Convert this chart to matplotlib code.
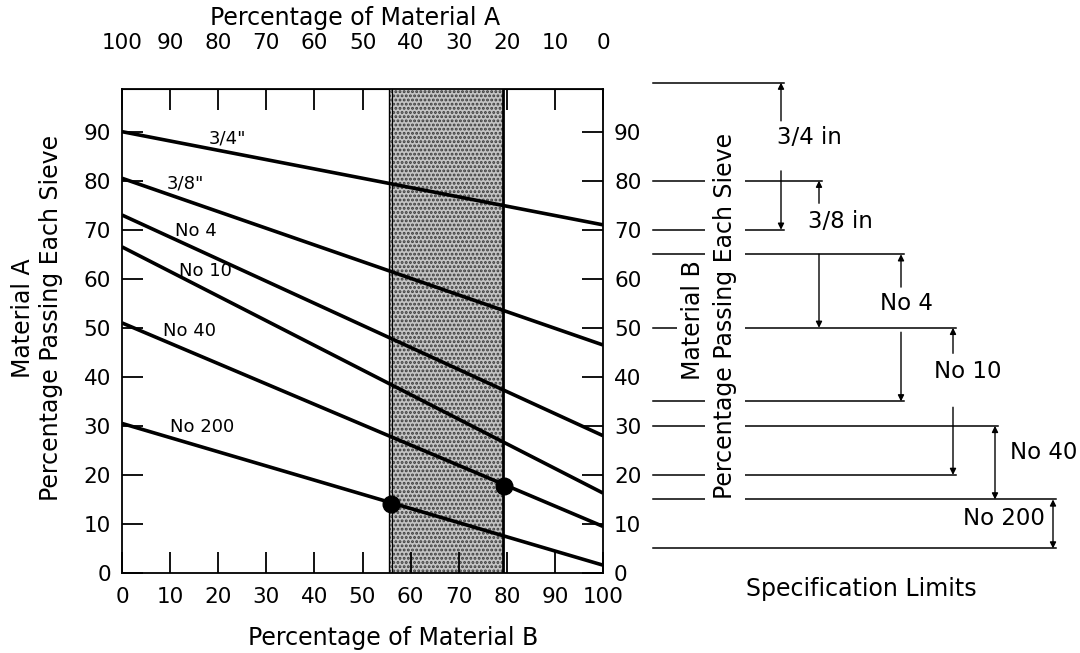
import matplotlib
matplotlib.use("Agg")
import matplotlib.pyplot as plt

# Datos: porcentaje que pasa cada tamiz para 0 % y 100 % de material B
sieves = ['3/4"', '3/8"', 'No 4', 'No 10', 'No 40', 'No 200']
pass_a = [90, 80.5, 73, 66.5, 51, 30.5]     # 100 % material A
pass_b = [71, 46.5, 28, 16.3, 9.5, 1.6]     # 100 % material B
label_b = [22, 13.1, 15.4, 17.3, 14.1, 16.6]
label_pass = [88.7, 79.5, 69.7, 61.6, 49.3, 29.8]

blend_b = [55.5, 79.2]
marked_b = [56, 79.5]
marked_pass = [14.1, 17.8]

spec_names = ["3/4 in", "3/8 in", "No 4", "No 10", "No 40", "No 200"]
spec_low = [70, 50, 35, 20, 15, 5]
spec_high = [100, 80, 65, 50, 30, 15]

W, H = 1080, 653


def fx(px):
    return px / W


def fy(py):
    return 1 - py / H


plt.rcParams["hatch.linewidth"] = 1.4

fig = plt.figure(figsize=(10.8, 6.53), dpi=100)
ax = fig.add_axes([fx(122), fy(573), (603 - 122) / W, (573 - 89) / H])

# zona de mezcla
ax.axvspan(blend_b[0], blend_b[1], facecolor="#c4c4c4", edgecolor="#3a3a3a",
           hatch="....", lw=0, zorder=1)
ax.axvline(blend_b[0], color="black", lw=1.0, zorder=2)
ax.axvline(blend_b[0] + 0.7, color="black", lw=0.8, zorder=2)
ax.axvline(blend_b[1], color="black", lw=2.0, zorder=2)

for a, b in zip(pass_a, pass_b):
    ax.plot([0, 100], [a, b], color="black", lw=2.6, solid_capstyle="butt", zorder=3)

for name, x, y in zip(sieves, label_b, label_pass):
    ax.text(x, y, name, ha="center", va="center", fontsize=13, zorder=4)

ax.plot(marked_b, marked_pass, "o", color="black", ms=12, zorder=5)

ax.set_xlim(0, 100)
ax.set_ylim(0, 98.7)
ax.set_xticks(range(0, 101, 10))
ax.set_yticks(range(0, 91, 10))
ax.tick_params(direction="in", length=15, width=1.3, labelsize=15.5)
ax.tick_params(axis="x", pad=10)
ax.tick_params(axis="y", right=True, labelright=True, pad=8)
for s in ax.spines.values():
    s.set_linewidth(1.3)

top = ax.secondary_xaxis("top", functions=(lambda v: 100 - v, lambda v: 100 - v))
top.set_xticks(range(0, 101, 10))
top.tick_params(direction="in", length=15, width=1.3, labelsize=15.5, pad=26)

fig.text(fx(393), fy(638), "Percentage of Material B", ha="center", va="center", fontsize=17)
fig.text(fx(355), fy(18), "Percentage of Material A", ha="center", va="center", fontsize=17)
fig.text(fx(37), fy(318), "Material A\nPercentage Passing Each Sieve", rotation=90,
         ha="center", va="center", multialignment="center", fontsize=17, linespacing=1.25)

# limites de especificacion
sax = fig.add_axes([fx(603), fy(573), (W - 603) / W, (573 - 89) / H])
sax.set_xlim(603, W)
sax.set_ylim(0, 98.7)
sax.axis("off")

cols = [781, 819, 901, 953, 995, 1053]
for v in sorted(set(spec_low + spec_high)):
    end = max(c for c, lo, hi in zip(cols, spec_low, spec_high) if v in (lo, hi)) + 3
    sax.plot([653, end], [v, v], color="black", lw=1.1, clip_on=False)


def arrow(x, tail, tip, style="-|>"):
    sax.annotate("", xy=(x, tip), xytext=(x, tail), annotation_clip=False,
                 arrowprops=dict(arrowstyle=style, color="black", lw=1.0,
                                 mutation_scale=9, shrinkA=0, shrinkB=0))


arrow(cols[0], 92.2, spec_high[0])
arrow(cols[0], 82.0, spec_low[0])
arrow(cols[1], 75.4, spec_high[1])
arrow(cols[1], spec_high[2], spec_low[1])
arrow(cols[2], 58.3, spec_high[2])
arrow(cols[2], 49.1, spec_low[2])
arrow(cols[3], 44.8, spec_high[3])
arrow(cols[3], 33.8, spec_low[3])
arrow(cols[4], spec_high[4], spec_low[4], "<|-|>")
arrow(cols[5], spec_high[5], spec_low[5], "<|-|>")

label_pos = [(777, 88.8, "left"), (808, 71.6, "left"), (880, 55, "left"),
             (934, 41, "left"), (1010, 24.5, "left"), (1045, 11.2, "right")]
for name, (x, y, ha) in zip(spec_names, label_pos):
    sax.text(x, y, name, ha=ha, va="center", fontsize=16.5)

fig.text(fx(693), fy(320), "Material B", rotation=90, ha="center", va="center", fontsize=17,
         bbox=dict(facecolor="white", edgecolor="none", pad=3))
fig.text(fx(725), fy(316), "Percentage Passing Each Sieve", rotation=90, ha="center",
         va="center", fontsize=17, bbox=dict(facecolor="white", edgecolor="none", pad=6))
fig.text(fx(861), fy(589), "Specification Limits", ha="center", va="center", fontsize=17)

fig.savefig("out.png", dpi=100)
